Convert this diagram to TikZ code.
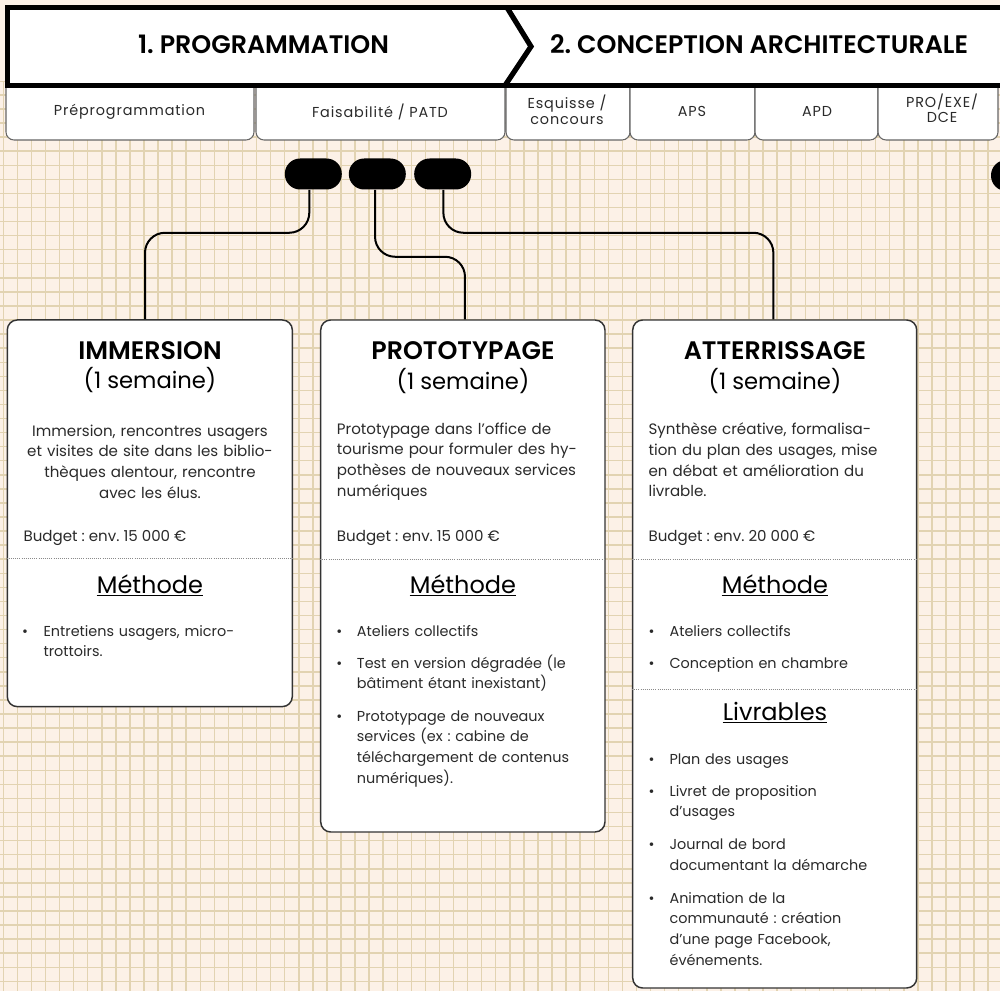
\documentclass[tikz,border=0pt]{standalone}
\usepackage{fontspec}
\setmainfont{Poppins}
\newfontfamily\semib{Poppins SemiBold}
\usetikzlibrary{calc}
\frenchspacing

\definecolor{paper}{HTML}{FCF1E7}
\definecolor{gridc}{HTML}{E2D3B2}
\definecolor{ink}{HTML}{2A2A2A}
\definecolor{cardline}{HTML}{333333}
\definecolor{tabline}{HTML}{666666}
\definecolor{dots}{HTML}{8A8A8A}

\tikzset{
  gridline/.style={gridc, line width=1.1pt},
  headline/.style={black, line width=3.9pt},
  tabbox/.style={draw=tabline, line width=0.8pt, fill=white, rounded corners=6pt},
  tablabel/.style={font=\fontsize{10.8}{12.3}\selectfont\addfontfeature{LetterSpace=6}, text=ink, align=center, inner sep=0pt},
  headlabel/.style={font=\fontsize{19}{22}\selectfont\semib, text=black, inner sep=0pt},
  pill/.style={fill=black, minimum width=42.75pt, minimum height=23.25pt, rounded corners=11.5pt, inner sep=0pt},
  conn/.style={black, line width=1.5pt, rounded corners=15pt},
  card/.style={draw=cardline, fill=white, line width=1.1pt, rounded corners=7.5pt, inner sep=0pt},
  cardtitle/.style={font=\fontsize{19}{22}\selectfont\semib, text=black, inner sep=0pt, anchor=base},
  cardsub/.style={font=\fontsize{17}{20}\selectfont, text=black, inner sep=0pt, anchor=base},
  section/.style={font=\fontsize{18}{20}\selectfont, text=black, inner sep=0pt, anchor=base},
  body/.style={font=\fontsize{11.3}{15.6}\selectfont, text=ink, inner sep=0pt},
  bul/.style={font=\fontsize{10.8}{15.6}\selectfont, text=ink, inner sep=0pt, anchor=base},
  item/.style={font=\fontsize{10.8}{15.6}\selectfont, text=ink, inner sep=0pt, anchor=base west, text width=190pt, align=left},
  sep/.style={dots, line width=0.7pt, dash pattern=on 0.7pt off 0.9pt},
  uline/.style={black, line width=1.1pt},
}

\begin{document}
\begin{tikzpicture}[x=0.75pt,y=-0.75pt]
\useasboundingbox (0,0) rectangle (1000,991);
\clip (0,0) rectangle (1000,991);

% paper and squared grid
\fill[paper] (0,0) rectangle (1000,991);
\begin{scope}
  \clip (0,82) rectangle (1000,991);
  \foreach \i in {0,...,71} \draw[gridline] ({3.3+14.07*\i},82) -- ({3.3+14.07*\i},991);
  \foreach \j in {0,...,65} \draw[gridline] (0,{80.85+14.07*\j}) -- (1000,{80.85+14.07*\j});
\end{scope}

% sub-phase tabs
\foreach \a/\b in {6/254, 256/505, 506/630, 630/755, 755/878, 878/998}
  \path[tabbox] (\a,84) -- (\a,140) -- (\b,140) -- (\b,84);
\node[tablabel] (tpre) at (129.5,112) {Préprogrammation};
\node[tablabel] (tfai) at (380,112) {Faisabilité / PATD};
\node[tablabel] (tesq) at (567,110) {Esquisse /\\concours};
\node[tablabel] (taps) at (692,111) {APS};
\node[tablabel] (tapd) at (817,111) {APD};
\node[tablabel, font=\fontsize{10.8}{11.3}\selectfont\addfontfeature{LetterSpace=6}] (tpro) at (942,108) {PRO/EXE/\\DCE};

% phase banner
\fill[white] (7.5,7.5) rectangle (1010,85.5);
\draw[headline] (1010,7.5) -- (7.5,7.5) -- (7.5,85.5) -- (1010,85.5);
\draw[headline, line join=miter] (507,7.5) -- (531,46.5) -- (505,85.5);
\node[headlabel] (ph1) at (263.5,44) {1. PROGRAMMATION};
\node[headlabel] (ph2) at (759,44) {2. CONCEPTION ARCHITECTURALE};

% milestone pills
\node[pill] (p1) at (313.3,174) {};
\node[pill] (p2) at (377.3,174) {};
\node[pill] (p3) at (442.7,174) {};
\node[pill] (p4) at (1019.5,175.5) {};

% cards
\node[card, minimum width=213.75pt, minimum height=290pt] (c1) at (149.8,513.3) {};
\node[card, minimum width=213.2pt, minimum height=384pt] (c2) at (462.85,576) {};
\node[card, minimum width=213pt, minimum height=501pt] (c3) at (774.7,654) {};

% connectors from pills to cards
\draw[conn] ([xshift=-3pt]p1.south) -- ++(0,43) -| ([xshift=-3.6pt]c1.north);
\draw[conn] ([xshift=-1.7pt]p2.south) -- ++(0,67) -| ([xshift=1.6pt]c2.north);
\draw[conn] ([xshift=0.5pt]p3.south) -- ++(0,43) -| ([xshift=-1pt]c3.north);

% card 1
\node[cardtitle] (h1) at (150,360) {IMMERSION};
\node[cardsub] (s1) at (150,388.5) {(1 semaine)};
\node[body, text width=210pt, align=center, anchor=base] (d1) at (150,436)
  {Immersion, rencontres usagers\\et visites de site dans les biblio-\\thèques alentour, rencontre\\avec les élus.};
\node[body, anchor=base west] (b1) at (23.3,541) {Budget : env. 15 000 €};
\draw[sep] (c1.west |- 0,558.5) -- (c1.east |- 0,558.5);
\node[section] (m1) at (150,593) {Méthode};
\draw[uline] ([yshift=-2pt]m1.base west) -- ([yshift=-2pt]m1.base east);
\node[bul] (l1b) at (25,636) {\textbullet};
\node[item] (l1) at (43.3,636) {Entretiens usagers, micro-\\trottoirs.};

% card 2
\node[cardtitle] (h2) at (463,359) {PROTOTYPAGE};
\node[cardsub] (s2) at (463,390) {(1 semaine)};
\node[body, text width=205pt, align=left, anchor=base west] (d2) at (336.7,434)
  {Prototypage dans l’office de\\tourisme pour formuler des hy-\\pothèses de nouveaux services\\numériques};
\node[body, anchor=base west] (b2) at (336.7,541) {Budget : env. 15 000 €};
\draw[sep] (c2.west |- 0,559) -- (c2.east |- 0,559);
\node[section] (m2) at (463,593) {Méthode};
\draw[uline] ([yshift=-2pt]m2.base west) -- ([yshift=-2pt]m2.base east);
\node[bul] (l2ab) at (339.3,636) {\textbullet};
\node[item] (l2a) at (356.7,636) {Ateliers collectifs};
\node[bul] (l2bb) at (339.3,668) {\textbullet};
\node[item] (l2b) at (356.7,668) {Test en version dégradée (le\\bâtiment étant inexistant)};
\node[bul] (l2cb) at (339.3,721) {\textbullet};
\node[item] (l2c) at (356.7,721) {Prototypage de nouveaux\\services (ex : cabine de\\téléchargement de contenus\\numériques).};

% card 3
\node[cardtitle] (h3) at (775,359) {ATTERRISSAGE};
\node[cardsub] (s3) at (775,390) {(1 semaine)};
\node[body, text width=205pt, align=left, anchor=base west] (d3) at (648.3,434.5)
  {Synthèse créative, formalisa-\\tion du plan des usages, mise\\en débat et amélioration du\\livrable.};
\node[body, anchor=base west] (b3) at (648.3,541) {Budget : env. 20 000 €};
\draw[sep] (c3.west |- 0,559) -- (c3.east |- 0,559);
\node[section] (m3) at (775,593) {Méthode};
\draw[uline] ([yshift=-2pt]m3.base west) -- ([yshift=-2pt]m3.base east);
\node[bul] (l3ab) at (651.7,636) {\textbullet};
\node[item] (l3a) at (669.3,636) {Ateliers collectifs};
\node[bul] (l3bb) at (651.7,668) {\textbullet};
\node[item] (l3b) at (669.3,668) {Conception en chambre};
\draw[sep] (c3.west |- 0,689.5) -- (c3.east |- 0,689.5);
\node[section] (v3) at (775,720) {Livrables};
\draw[uline] ([yshift=-2pt]v3.base west) -- ([yshift=-2pt]v3.base east);
\node[bul] (k3ab) at (651.7,764.5) {\textbullet};
\node[item] (k3a) at (669.3,764.5) {Plan des usages};
\node[bul] (k3bb) at (651.7,796) {\textbullet};
\node[item] (k3b) at (669.3,796) {Livret de proposition\\d’usages};
\node[bul] (k3cb) at (651.7,849.5) {\textbullet};
\node[item] (k3c) at (669.3,849.5) {Journal de bord\\documentant la démarche};
\node[bul] (k3db) at (651.7,903) {\textbullet};
\node[item] (k3d) at (669.3,903) {Animation de la\\communauté : création\\d’une page Facebook,\\événements.};
\end{tikzpicture}
\end{document}
